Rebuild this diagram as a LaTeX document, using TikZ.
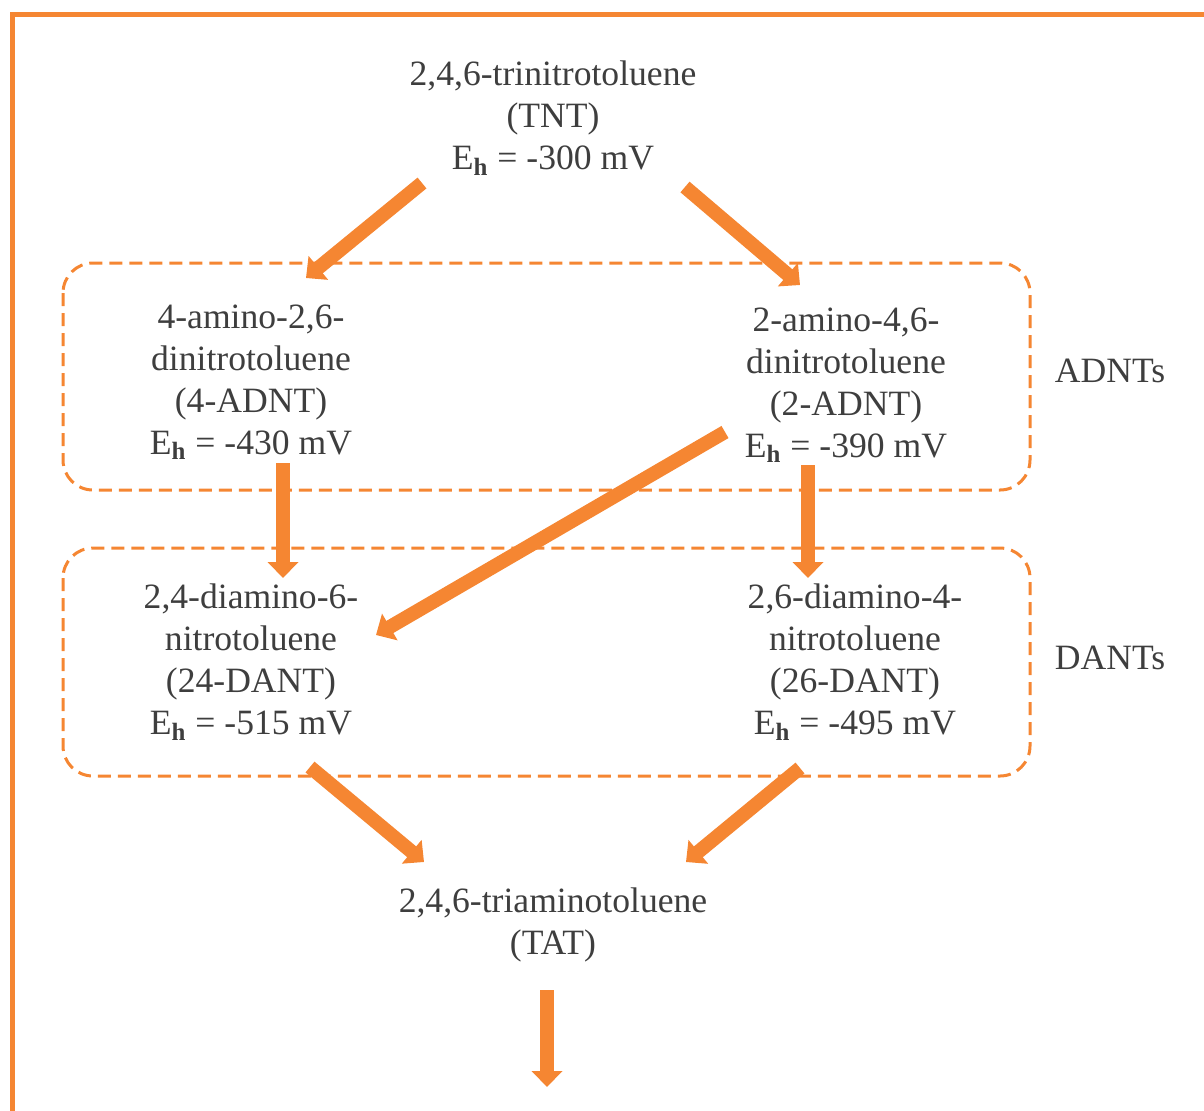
\documentclass[tikz,border=0pt]{standalone}
\usepackage{fontspec}
\setmainfont{Liberation Serif}
\usetikzlibrary{arrows.meta,calc}
\definecolor{orangeC}{RGB}{245,134,50}
\definecolor{txt}{RGB}{62,62,62}
\begin{document}
\begin{tikzpicture}[x=0.5pt,y=-0.5pt,
  label/.style={inner sep=0pt,align=center,text=txt,font=\fontsize{17.8pt}{21pt}\selectfont},
  flow/.style={draw=orangeC,line width=7pt,-{Triangle[width=15pt,length=8pt]}},
  groupbox/.style={draw=orangeC,line width=1.5pt,dash pattern=on 6.5pt off 3.5pt,rounded corners=15pt}]
\useasboundingbox (0,0) rectangle (1204,1110);
\clip (0,0) rectangle (1204,1110);
% outer frame (runs off the right and bottom edges)
\draw[orangeC,line width=2.5pt] (12.5,14) rectangle (1230,1140);
% group boxes
\draw[groupbox] (63,263) rectangle (1030,490);
\draw[groupbox] (63,548) rectangle (1030,776);
% compounds
\newcommand{\Eh}{E\textsubscript{\textbf{h}}}
\node[label] (tnt) at (553,118) {2,4,6-trinitrotoluene\\(TNT)\\\Eh{} = -300 mV};
\node[label] (a4) at (251,382) {4-amino-2,6-\\dinitrotoluene\\(4-ADNT)\\\Eh{} = -430 mV};
\node[label] (a2) at (846,385) {2-amino-4,6-\\dinitrotoluene\\(2-ADNT)\\\Eh{} = -390 mV};
\node[label] (d24) at (251,662) {2,4-diamino-6-\\nitrotoluene\\(24-DANT)\\\Eh{} = -515 mV};
\node[label] (d26) at (855,662) {2,6-diamino-4-\\nitrotoluene\\(26-DANT)\\\Eh{} = -495 mV};
\node[label] (tat) at (553,925) {2,4,6-triaminotoluene\\(TAT)};
\node[label] (adnts) at (1110,371) {ADNTs};
\node[label] (dants) at (1110,658) {DANTs};
\coordinate (next) at (547,1087);
% reduction steps
\draw[flow] ($(tnt)+(-131,65)$) -- ($(a4)+(55,-104)$);
\draw[flow] ($(tnt)+(132,69)$) -- ($(a2)+(-46,-100)$);
\draw[flow] ($(a4)+(32,81)$) -- ($(d24)+(32,-84)$);
\draw[flow] ($(a2)+(-121,47)$) -- ($(d24)+(125,-27)$);
\draw[flow] ($(a2)+(-38,80)$) -- ($(d26)+(-47,-84)$);
\draw[flow] ($(d24)+(59,105)$) -- ($(tat)+(-129,-63)$);
\draw[flow] ($(d26)+(-55,106)$) -- ($(tat)+(133,-63)$);
\draw[flow] ($(tat)+(-6,65)$) -- (next);
\end{tikzpicture}
\end{document}
